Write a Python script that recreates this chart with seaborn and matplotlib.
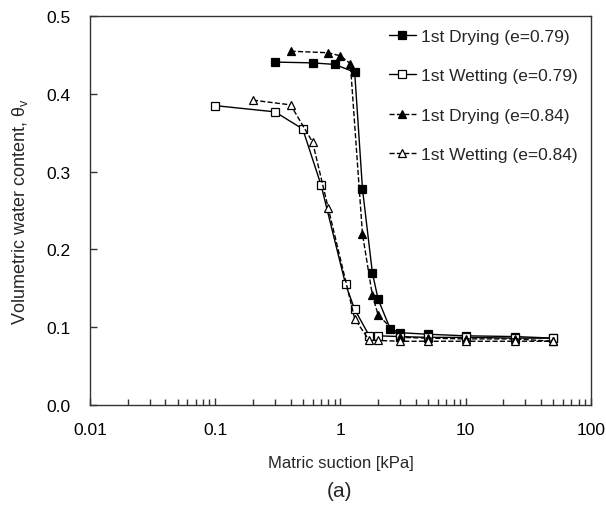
import pandas as pd
import matplotlib
matplotlib.use("Agg")
import matplotlib.pyplot as plt
from matplotlib.ticker import LogLocator, NullFormatter
import seaborn as sns

# data (suction in kPa, volumetric water content)
dry79_x = [0.3, 0.6, 0.9, 1.3, 1.5, 1.8, 2.0, 2.5, 3, 5, 10, 25, 50]
dry79_y = [0.441, 0.440, 0.438, 0.428, 0.278, 0.170, 0.136, 0.098, 0.093, 0.091, 0.089, 0.088, 0.086]

wet79_x = [0.1, 0.3, 0.5, 0.7, 1.1, 1.3, 1.7, 2.0, 3, 5, 10, 25, 50]
wet79_y = [0.385, 0.377, 0.355, 0.283, 0.155, 0.123, 0.089, 0.089, 0.088, 0.087, 0.087, 0.086, 0.086]

dry84_x = [0.4, 0.8, 1.0, 1.2, 1.5, 1.8, 2.0, 3, 5, 10, 25, 50]
dry84_y = [0.455, 0.453, 0.449, 0.439, 0.220, 0.141, 0.116, 0.087, 0.086, 0.085, 0.085, 0.082]

wet84_x = [0.2, 0.4, 0.6, 0.8, 1.3, 1.7, 2.0, 3, 5, 10, 25, 50]
wet84_y = [0.392, 0.386, 0.338, 0.253, 0.111, 0.083, 0.083, 0.082, 0.082, 0.082, 0.082, 0.082]

labels = ["1st Drying (e=0.79)", "1st Wetting (e=0.79)",
          "1st Drying (e=0.84)", "1st Wetting (e=0.84)"]

sns.set_style("ticks")
plt.rcParams["font.family"] = ["Liberation Sans", "DejaVu Sans"]
plt.rcParams["mathtext.fontset"] = "custom"
plt.rcParams["mathtext.rm"] = "Liberation Sans"

fig = plt.figure(figsize=(6.06, 5.06), dpi=100)
ax = fig.add_axes([0.1485, 0.1976, 0.8265, 0.7684])

series = [
    (dry79_x, dry79_y, "s", "black", "-"),
    (wet79_x, wet79_y, "s", "white", "-"),
    (dry84_x, dry84_y, "^", "black", "--"),
    (wet84_x, wet84_y, "^", "white", "--"),
]
for (x, y, m, fc, ls), lab in zip(series, labels):
    df = pd.DataFrame({"x": x, "y": y})
    sns.lineplot(data=df, x="x", y="y", ax=ax, sort=False, estimator=None,
                 color="black", linestyle=ls, linewidth=1.0, marker=m,
                 markersize=5.5, markerfacecolor=fc, markeredgecolor="black",
                 markeredgewidth=0.9, label=lab)

ax.set_xscale("log")
ax.set_xlim(0.01, 100)
ax.set_ylim(0, 0.5)
ax.set_xticks([0.01, 0.1, 1, 10, 100])
ax.set_xticklabels(["0.01", "0.1", "1", "10", "100"])
ax.xaxis.set_minor_locator(LogLocator(base=10, subs=range(2, 10), numticks=20))
ax.xaxis.set_minor_formatter(NullFormatter())
ax.set_yticks([0.0, 0.1, 0.2, 0.3, 0.4, 0.5])
ax.set_yticklabels(["0.0", "0.1", "0.2", "0.3", "0.4", "0.5"])
ax.tick_params(axis="both", which="both", direction="in", labelsize=12.5,
               colors="#333333", labelcolor="black")
ax.tick_params(axis="x", which="major", length=5, width=1.0, pad=12)
ax.tick_params(axis="x", which="minor", length=4, width=1.0)
ax.tick_params(axis="y", which="major", length=5, width=1.0, pad=14)
for s in ax.spines.values():
    s.set_visible(True)
    s.set_color("#333333")
    s.set_linewidth(1.0)

ax.set_xlabel("Matric suction [kPa]", fontsize=12, labelpad=13)
ax.set_ylabel("Volumetric water content, θ$_\\mathregular{v}$", fontsize=13, labelpad=12)

ax.legend(loc="upper right", frameon=False, fontsize=12.5, labelspacing=1.38,
          handlelength=1.55, handletextpad=0.3, borderaxespad=0.35)

fig.text(0.56, 0.018, "(a)", fontsize=15, ha="center")

fig.savefig("out.png", dpi=100)
